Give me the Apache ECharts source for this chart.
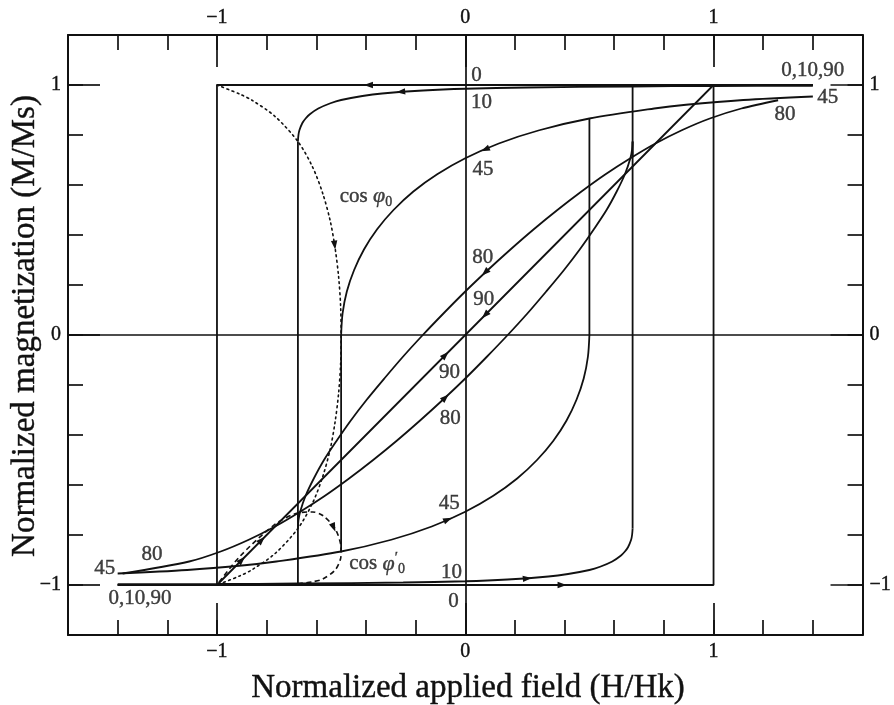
<!DOCTYPE html>
<html>
<head>
<meta charset="utf-8">
<script src="https://cdn.jsdelivr.net/npm/echarts@6/dist/echarts.min.js"></script>
<style>
  html, body { margin: 0; padding: 0; background: #ffffff; }
  #chart { width: 894px; height: 705px; }
</style>
</head>
<body>
<div id="chart"></div>
<script>
// Stoner–Wohlfarth hysteresis loops: reduced magnetization M/Ms against
// reduced field H/Hk for field angles of 0, 10, 45, 80 and 90 degrees.

const majorTicks = [-1, 0, 1];

// psi = 0: square loop, saturated branches run out to |H| = 1.4
const psi0Descending = [[1.4, 1], [-1, 1], [-1, -1]];
const psi0Ascending = [[-1.4, -1], [1, -1], [1, 1]];

// psi = 90: reversible straight line through the origin
const psi90 = [[-1.4, -1], [-1, -1], [1, 1], [1.4, 1]];

// psi = 10
const psi10Descending = [
  [1.4, 0.997], [1.0, 0.996], [0.67, 0.994], [0.25, 0.990], [0, 0.985],
  [-0.17, 0.978], [-0.335, 0.966], [-0.414, 0.956], [-0.5, 0.940], [-0.543, 0.927],
  [-0.592, 0.906], [-0.626, 0.883], [-0.643, 0.866], [-0.656, 0.848], [-0.668, 0.819],
  [-0.672, 0.799], [-0.674, 0.774]
];
const psi10Ascending = [
  [-1.4, -0.997], [-1.0, -0.996], [-0.67, -0.994], [-0.25, -0.990], [0, -0.985],
  [0.17, -0.978], [0.335, -0.966], [0.414, -0.956], [0.5, -0.940], [0.543, -0.927],
  [0.592, -0.906], [0.626, -0.883], [0.643, -0.866], [0.656, -0.848], [0.668, -0.819],
  [0.672, -0.799], [0.674, -0.774]
];
const psi10Jumps = [[[-0.674, 0.774], [-0.674, -0.995]], [[0.674, -0.774], [0.674, 0.995]]];

// psi = 45
const psi45Descending = [
  [1.4, 0.954], [1.12, 0.940], [0.889, 0.921], [0.761, 0.906], [0.5, 0.866],
  [0.298, 0.819], [0.135, 0.766], [0, 0.707], [-0.113, 0.643], [-0.209, 0.574],
  [-0.289, 0.5], [-0.355, 0.423], [-0.408, 0.342], [-0.448, 0.259], [-0.477, 0.174],
  [-0.494, 0.087], [-0.5, 0]
];
const psi45Ascending = [
  [-1.4, -0.954], [-1.12, -0.940], [-0.889, -0.921], [-0.761, -0.906], [-0.5, -0.866],
  [-0.298, -0.819], [-0.135, -0.766], [0, -0.707], [0.113, -0.643], [0.209, -0.574],
  [0.289, -0.5], [0.355, -0.423], [0.408, -0.342], [0.448, -0.259], [0.477, -0.174],
  [0.494, -0.087], [0.5, 0]
];
const psi45Jumps = [[[-0.5, 0], [-0.5, -0.866]], [[0.5, 0], [0.5, 0.866]]];

// psi = 80
const psi80Descending = [
  [1.26, 0.939], [1.112, 0.906], [0.985, 0.866], [0.872, 0.819], [0.766, 0.766],
  [0.665, 0.707], [0.565, 0.643], [0.468, 0.574], [0.371, 0.5], [0.276, 0.423],
  [0.182, 0.342], [0.09, 0.259], [0, 0.174], [-0.087, 0.087], [-0.171, 0],
  [-0.251, -0.087], [-0.326, -0.174], [-0.397, -0.259], [-0.461, -0.342], [-0.518, -0.423],
  [-0.569, -0.5], [-0.61, -0.574], [-0.643, -0.643], [-0.665, -0.707], [-0.672, -0.743],
  [-0.674, -0.774]
];
const psi80Ascending = [
  [-1.38, -0.954], [-1.112, -0.906], [-0.985, -0.866], [-0.872, -0.819], [-0.766, -0.766],
  [-0.665, -0.707], [-0.565, -0.643], [-0.468, -0.574], [-0.371, -0.5], [-0.276, -0.423],
  [-0.182, -0.342], [-0.09, -0.259], [0, -0.174], [0.087, -0.087], [0.171, 0],
  [0.251, 0.087], [0.326, 0.174], [0.397, 0.259], [0.461, 0.342], [0.518, 0.423],
  [0.569, 0.5], [0.61, 0.574], [0.643, 0.643], [0.665, 0.707], [0.672, 0.743],
  [0.674, 0.774]
];
const psi80Jumps = [[[-0.674, -0.774], [-0.674, -0.712]], [[0.674, 0.774], [0.674, 0.712]]];

// cos phi0: magnetization just before switching, as the angle runs 0 -> 90
const cosPhi0 = [
  [-1, 1], [-0.907, 0.963], [-0.859, 0.939], [-0.767, 0.875], [-0.674, 0.774],
  [-0.615, 0.672], [-0.574, 0.566], [-0.544, 0.457], [-0.524, 0.346], [-0.51, 0.232],
  [-0.502, 0.116], [-0.5, 0], [-0.502, -0.116], [-0.51, -0.232], [-0.524, -0.346],
  [-0.544, -0.457], [-0.574, -0.566], [-0.615, -0.672], [-0.674, -0.774], [-0.767, -0.875],
  [-0.859, -0.939], [-0.907, -0.963], [-1, -1]
];
// cos phi0': magnetization just after switching
const cosPhi0Prime = [
  [-0.674, -0.995], [-0.615, -0.987], [-0.574, -0.976], [-0.524, -0.94], [-0.502, -0.894],
  [-0.5, -0.866], [-0.502, -0.836], [-0.524, -0.775], [-0.574, -0.722], [-0.615, -0.708],
  [-0.674, -0.712], [-0.767, -0.758], [-0.907, -0.885], [-1, -1]
];

// direction arrows: [H, M] of the head, then a point further along the path
const arrowMarks = [
  [-0.39, 1, -0.5, 1],
  [-0.26, 0.973, -0.335, 0.966],
  [0.08, 0.742, 0, 0.707],
  [0.08, 0.25, 0, 0.174],
  [0.08, 0.08, 0, 0],
  [-0.08, -0.08, 0, 0],
  [-0.08, -0.25, 0, -0.174],
  [-0.07, -0.738, 0, -0.707],
  [0.25, -0.974, 0.335, -0.966],
  [0.39, -1, 0.5, -1],
  [-0.526, 0.36, -0.51, 0.232],
  [-0.53, -0.77, -0.502, -0.836],
  [-0.9, -0.9, -0.8, -0.8],
  [-0.82, -0.82, -0.7, -0.7]
];

const INK = '#111111';
const SERIF = '"Liberation Serif", "Times New Roman", serif';

// curve annotations (angle in degrees, and the two cos phi loci)
const notes = [
  { name: '0', value: [0.045, 1.04] },
  { name: '10', value: [0.065, 0.93] },
  { name: '45', value: [0.071, 0.664] },
  { name: '80', value: [0.07, 0.312] },
  { name: '90', value: [0.074, 0.144] },
  { name: '90', value: [-0.063, -0.148] },
  { name: '80', value: [-0.06, -0.334] },
  { name: '45', value: [-0.064, -0.674] },
  { name: '10', value: [-0.055, -0.95] },
  { name: '0', value: [-0.047, -1.064] },
  { name: '0,10,90', value: [1.40, 1.059] },
  { name: '45', value: [1.46, 0.951] },
  { name: '80', value: [1.288, 0.883] },
  { name: '45', value: [-1.452, -0.934] },
  { name: '80', value: [-1.262, -0.878] },
  { name: '0,10,90', value: [-1.31, -1.054] },
  { name: '{t|cos }{f|φ}{s|0}', value: [-0.40, 0.556] },
  { name: '{t|cos }{f|φ}{p|′}{s|0}', value: [-0.355, -0.915] }
];

function path(data, lineStyle, smooth) {
  return {
    type: 'line', data: data, symbol: 'none', silent: true, animation: false,
    smooth: smooth, z: 3,
    lineStyle: Object.assign({ color: INK, width: 1.8 }, lineStyle || {})
  };
}

const series = [];
const zeroLines = path(psi90, {}, false);
zeroLines.markLine = {
  silent: true, symbol: 'none', animation: false, label: { show: false },
  lineStyle: { color: INK, width: 1.7, type: 'solid' },
  data: [{ xAxis: 0 }, { yAxis: 0 }]
};
series.push(zeroLines);
series.push(path(psi0Descending, {}, false));
series.push(path(psi0Ascending, {}, false));
[psi10Descending, psi10Ascending, psi45Descending, psi45Ascending, psi80Descending, psi80Ascending]
  .forEach(d => series.push(path(d, {}, 0.3)));
[].concat(psi10Jumps, psi45Jumps, psi80Jumps).forEach(d => series.push(path(d, {}, false)));
series.push(path(cosPhi0, { width: 1.6, type: [1.8, 3.6], cap: 'round' }, 0.3));
series.push(path(cosPhi0Prime, { width: 1.6, type: [5, 3.5] }, 0.3));

series.push({
  type: 'custom', silent: true, animation: false, z: 6,
  data: arrowMarks,
  encode: { x: [0, 2], y: [1, 3] },
  renderItem: function (params, api) {
    const a = api.coord([api.value(0), api.value(1)]);
    const b = api.coord([api.value(2), api.value(3)]);
    let dx = b[0] - a[0], dy = b[1] - a[1];
    const L = Math.hypot(dx, dy) || 1;
    dx /= L; dy /= L;
    const len = 9, half = 3.2;
    const tip = [a[0] + dx * len / 2, a[1] + dy * len / 2];
    const base = [a[0] - dx * len / 2, a[1] - dy * len / 2];
    return {
      type: 'polygon',
      shape: { points: [tip, [base[0] - dy * half, base[1] + dx * half], [base[0] + dy * half, base[1] - dx * half]] },
      style: { fill: INK }
    };
  }
});

const inkText = { color: INK, textBorderColor: INK, textBorderWidth: 0.4 };

series.push({
  type: 'scatter', silent: true, animation: false, z: 7,
  symbolSize: 0, data: notes,
  label: Object.assign({
    show: true, position: 'inside',
    fontFamily: SERIF, fontSize: 21,
    formatter: p => p.name,
    rich: {
      t: Object.assign({ fontFamily: SERIF, fontSize: 21, lineHeight: 26 }, inkText),
      f: Object.assign({ fontFamily: SERIF, fontSize: 22, fontStyle: 'italic', lineHeight: 26 }, inkText),
      s: Object.assign({ fontFamily: SERIF, fontSize: 14, lineHeight: 14, verticalAlign: 'bottom' }, inkText),
      p: Object.assign({ fontFamily: SERIF, fontSize: 15, lineHeight: 14, verticalAlign: 'top' }, inkText)
    }
  }, inkText)
});

const fmt = v => (v < 0 ? '\u2212' + Math.abs(v) : String(v));

function minorAxis(position) {
  return {
    type: 'value', position: position, min: -1.6, max: 1.6, interval: 0.2,
    axisLine: { show: true, onZero: false, lineStyle: { color: INK, width: 2 } },
    axisTick: { show: true, inside: true, length: 15, lineStyle: { color: INK, width: 1.7 } },
    axisLabel: { show: false }, splitLine: { show: false }
  };
}
function majorAxis(position, extent) {
  return {
    type: 'value', position: position, min: -extent, max: extent,
    axisLine: { show: false, onZero: false },
    axisTick: { show: true, inside: true, length: 32, customValues: majorTicks, lineStyle: { color: INK, width: 1.7 } },
    axisLabel: Object.assign({ show: true, customValues: majorTicks, formatter: fmt, fontFamily: SERIF, fontSize: 20, margin: 7 }, inkText),
    splitLine: { show: false }
  };
}
function minorYAxis(position) {
  const a = minorAxis(position);
  a.min = -1.2; a.max = 1.2;
  return a;
}

const titleStyle = { font: '33px ' + SERIF, fill: INK, stroke: INK, lineWidth: 0.4,
  textAlign: 'center', textVerticalAlign: 'middle', align: 'center', verticalAlign: 'middle' };

const chart = echarts.init(document.getElementById('chart'), null, { renderer: 'canvas' });
chart.setOption({
  backgroundColor: '#ffffff',
  animation: false,
  grid: { left: 68, right: 24, top: 35, bottom: 70, containLabel: false },
  xAxis: [minorAxis('bottom'), minorAxis('top'), majorAxis('bottom', 1.6), majorAxis('top', 1.6)],
  yAxis: [minorYAxis('left'), minorYAxis('right'), majorAxis('left', 1.2), majorAxis('right', 1.2)],
  graphic: [
    {
      type: 'text', x: 468, y: 688, silent: true,
      style: Object.assign({ text: 'Normalized applied field (H/Hk)' }, titleStyle)
    },
    {
      type: 'text', x: 25, y: 326, rotation: Math.PI / 2, silent: true,
      style: Object.assign({ text: 'Normalized magnetization (M/Ms)' }, titleStyle)
    }
  ],
  series: series
});
</script>
</body>
</html>
